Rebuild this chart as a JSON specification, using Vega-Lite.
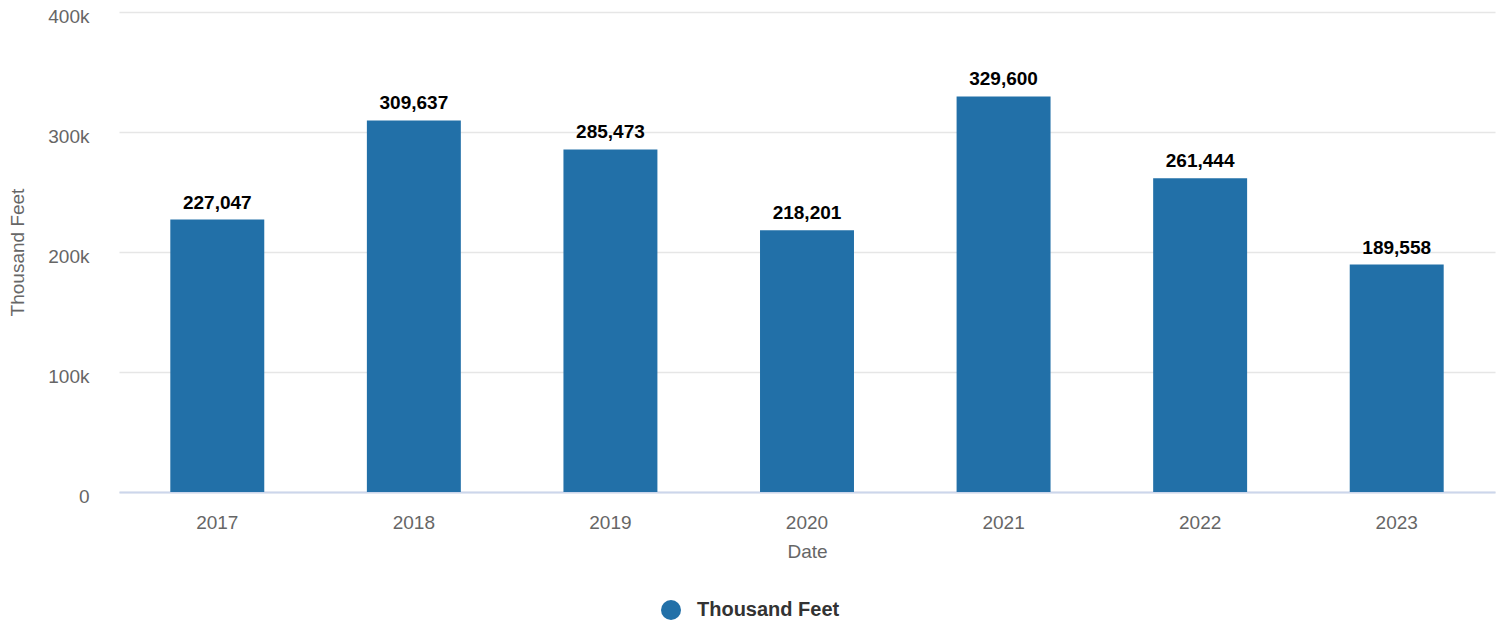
{
  "$schema": "https://vega.github.io/schema/vega-lite/v6.json",
  "width": 1376,
  "height": 480,
  "autosize": "none",
  "padding": {"left": 119, "top": 12, "right": 11, "bottom": 130},
  "background": "white",
  "config": {
    "view": {"stroke": null},
    "font": "Liberation Sans"
  },
  "data": {
    "values": [
      {"Date": "2017", "value": 227047, "series": "Thousand Feet"},
      {"Date": "2018", "value": 309637, "series": "Thousand Feet"},
      {"Date": "2019", "value": 285473, "series": "Thousand Feet"},
      {"Date": "2020", "value": 218201, "series": "Thousand Feet"},
      {"Date": "2021", "value": 329600, "series": "Thousand Feet"},
      {"Date": "2022", "value": 261444, "series": "Thousand Feet"},
      {"Date": "2023", "value": 189558, "series": "Thousand Feet"}
    ]
  },
  "encoding": {
    "x": {
      "field": "Date",
      "type": "ordinal",
      "scale": {"paddingInner": 0.522, "paddingOuter": 0.261},
      "axis": {
        "title": "Date",
        "labelAngle": 0,
        "labelFontSize": 19,
        "labelColor": "#666666",
        "labelBaseline": "middle",
        "labelPadding": 30,
        "ticks": false,
        "domainColor": "#ccd6eb",
        "domainWidth": 2,
        "titleFontSize": 19,
        "titleFontWeight": "normal",
        "titleColor": "#666666",
        "titleBaseline": "middle",
        "titleY": 59,
        "titleX": 688
      }
    },
    "y": {
      "field": "value",
      "type": "quantitative",
      "scale": {"domain": [0, 400000], "nice": false},
      "axis": {
        "title": "Thousand Feet",
        "values": [0, 100000, 200000, 300000, 400000],
        "labelExpr": "datum.value == 0 ? '0' : format(datum.value / 1000, 'd') + 'k'",
        "labelFontSize": 19,
        "labelColor": "#666666",
        "labelBaseline": "middle",
        "labelOffset": 4,
        "labelPadding": 30,
        "ticks": false,
        "domain": false,
        "gridColor": "#e6e6e6",
        "gridWidth": 1.5,
        "titleFontSize": 19,
        "titleFontWeight": "normal",
        "titleColor": "#666666",
        "titleAngle": 270,
        "titleBaseline": "middle",
        "titleAlign": "center",
        "titleX": -102,
        "titleY": 240
      }
    }
  },
  "layer": [
    {
      "mark": {"type": "bar"},
      "encoding": {
        "color": {
          "field": "series",
          "type": "nominal",
          "scale": {"range": ["#2270a8"]},
          "legend": {
            "title": null,
            "orient": "none",
            "legendX": 542,
            "legendY": 588,
            "padding": 0,
            "symbolType": "circle",
            "symbolSize": 400,
            "symbolStrokeWidth": 0,
            "symbolOpacity": 1,
            "labelOffset": 16,
            "labelFontSize": 20,
            "labelFontWeight": "bold",
            "labelColor": "#333333",
            "labelLimit": 400
          }
        }
      }
    },
    {
      "mark": {
        "type": "text",
        "baseline": "alphabetic",
        "dy": -11,
        "fontSize": 19,
        "fontWeight": "bold",
        "color": "#000000"
      },
      "encoding": {
        "text": {"field": "value", "type": "quantitative", "format": ","}
      }
    }
  ]
}
